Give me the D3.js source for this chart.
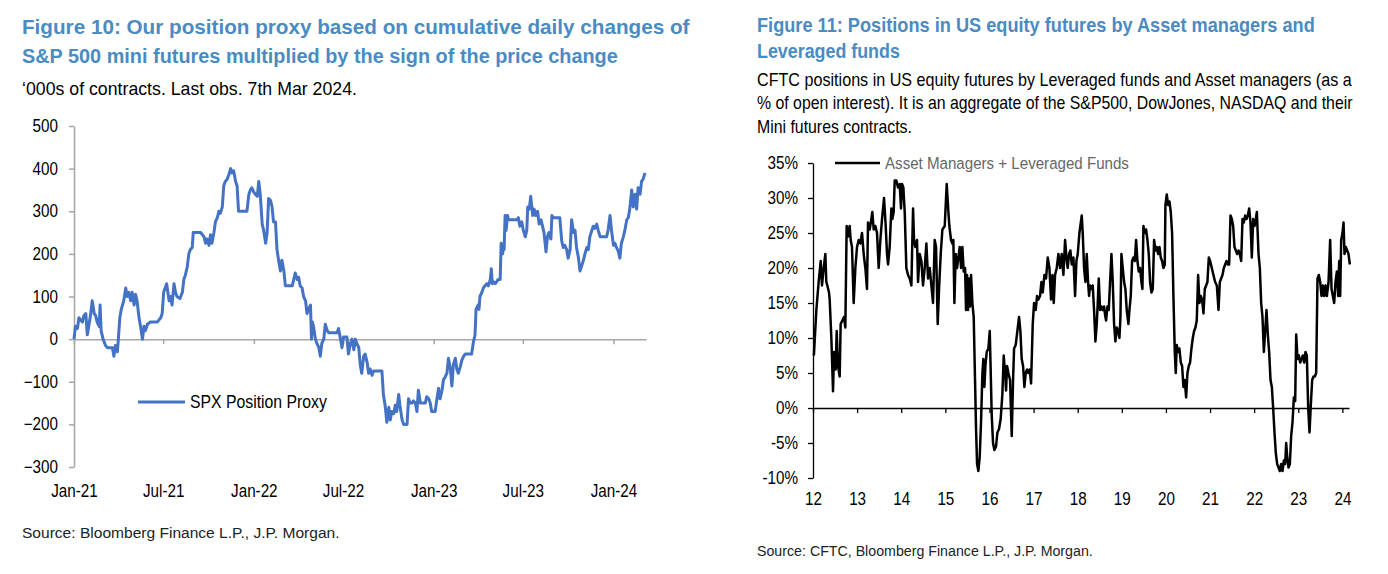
<!DOCTYPE html>
<html>
<head>
<meta charset="utf-8">
<script src="https://cdn.jsdelivr.net/npm/d3@7"></script>
<style>
  html, body { margin: 0; padding: 0; background: #fff; }
  svg { display: block; }
  text { font-family: 'Liberation Sans Narrow', 'Arial Narrow', 'Liberation Sans', Arial, sans-serif; }
</style>
</head>
<body>
<svg id="chart" width="1388" height="574"></svg>
<script>
// ---------- Figure 10 data: SPX position proxy ('000s of contracts) ----------
// [days since 1 Jan 2021, value]
const spxProxy = [
[0,0],[3,30],[7,25],[10,50],[17,40],[20,55],[24,60],[27,10],[30,30],[34,60],[37,90],[41,60],[44,55],[47,40],[51,30],[53,80],[55,20],[59,0],[64,-15],[68,-20],[78,-20],[81,-40],[84,-15],[88,-30],[90,0],[93,50],[96,70],[101,90],[105,120],[108,100],[111,110],[115,90],[118,110],[122,80],[125,105],[128,90],[132,50],[135,30],[139,0],[142,30],[145,20],[149,35],[155,40],[162,40],[169,40],[176,50],[179,60],[182,110],[188,130],[193,90],[196,100],[199,80],[203,130],[206,110],[209,100],[215,95],[220,110],[223,140],[226,150],[230,170],[233,200],[236,210],[240,215],[242,250],[257,250],[264,240],[267,225],[270,235],[274,220],[277,245],[280,225],[284,250],[287,275],[291,285],[294,300],[297,295],[301,310],[304,360],[307,370],[311,375],[314,385],[318,400],[321,390],[324,395],[328,370],[331,360],[334,300],[338,300],[351,300],[355,340],[358,350],[361,355],[365,345],[368,340],[372,335],[375,370],[378,340],[382,270],[385,255],[389,225],[392,250],[395,330],[399,325],[402,310],[405,275],[409,275],[412,210],[416,180],[419,160],[422,185],[426,160],[429,125],[432,125],[443,125],[446,140],[449,155],[453,140],[456,145],[459,125],[463,120],[466,100],[470,90],[473,60],[476,70],[480,80],[482,0],[484,40],[486,30],[490,0],[493,-10],[497,-20],[500,-40],[503,-10],[507,0],[510,35],[514,20],[517,15],[534,15],[537,25],
[544,-20],[547,5],[554,5],[557,-35],[561,-10],[564,0],[568,-25],[571,0],[574,-10],[578,-20],[581,-60],[584,-80],[588,-40],[591,-35],[595,-55],[598,-80],[601,-70],[605,-85],[608,-75],[625,-75],[628,-130],[632,-160],[635,-195],[639,-160],[642,-190],[645,-170],[649,-175],[652,-155],[655,-170],[659,-130],[662,-160],[666,-190],[669,-200],[676,-200],[679,-140],[682,-150],[686,-150],[689,-145],[693,-150],[696,-170],[699,-120],[703,-150],[713,-150],[716,-135],[720,-140],[723,-150],[726,-170],[733,-170],[736,-145],[740,-115],[743,-140],[747,-120],[750,-95],[753,-90],[757,-80],[760,-45],[764,-70],[767,-110],[770,-60],[774,-45],[777,-70],[780,-80],[784,-65],[787,-50],[791,-40],[794,-35],[807,-35],[811,-5],[814,10],[816,70],[820,80],[822,70],[824,100],[828,110],[831,120],[834,125],[838,130],[841,125],[845,140],[847,165],[849,130],[851,135],[855,130],[858,135],[861,140],[865,140],[867,225],[870,200],[872,220],[873,210],[875,290],[877,255],[880,290],[882,280],[885,280],[899,280],[902,285],[905,265],[909,275],[912,255],[916,240],[919,255],[921,310],[924,305],[927,335],[931,290],[934,305],[937,290],[941,300],[944,270],[948,280],[951,265],[954,250],[958,205],[961,240],[964,250],[968,235],[970,290],[973,285],[986,285],[990,230],[993,215],[996,220],[1000,210],[1003,190],[1007,210],[1010,280],[1014,250],[1017,255],[1020,215],[1024,190],[1027,160],[1030,170],[1034,185],[1037,200],[1041,215],[1044,210],[1047,240],[1051,255],[1054,265],[1057,260],[1061,270],[1064,255],[1068,240],[1081,240],[1084,255],[1088,290],[1091,255],[1095,220],[1098,225],[1101,215],[1105,205],[1108,190],[1111,225],[1115,240],[1118,255],[1122,280],[1125,285],[1128,305],[1132,350],[1135,310],[1139,340],[1142,305],[1145,355],[1149,340],[1152,370],[1155,375],[1159,390]
];
const leftYTicks = [-300,-200,-100,0,100,200,300,400,500];
const leftXTicks = ["2021-01-01","2021-07-01","2022-01-01","2022-07-01","2023-01-01","2023-07-01","2024-01-01"];
const leftStart = "2021-01-01", leftEnd = "2024-03-07";

// ---------- Figure 11 data: Asset Managers + Leveraged Funds (% of OI) ----------
// [decimal year, %]
const amLev = [
[2012.02,7.5],[2012.076,14],[2012.128,18],[2012.174,21],[2012.204,17.5],[2012.242,20],[2012.28,22],[2012.302,18],[2012.325,17.5],[2012.363,16.5],[2012.378,15.5],[2012.416,10],[2012.454,2.4],[2012.476,8],[2012.514,5.5],[2012.537,11],[2012.567,6],[2012.605,4.5],[2012.627,12],[2012.665,12.5],[2012.703,13],[2012.733,11.5],[2012.763,26],[2012.794,24.5],[2012.831,26],[2012.854,24],[2012.884,23],[2012.922,15],[2012.96,20],[2012.998,23],[2013.036,24],[2013.073,23.5],[2013.111,25],[2013.149,22],[2013.187,20],[2013.224,17],[2013.247,26.5],[2013.285,25.5],[2013.323,27],[2013.345,28],[2013.376,25.5],[2013.413,26],[2013.451,25],[2013.489,20],[2013.527,24],[2013.565,27],[2013.61,30],[2013.648,26],[2013.678,22],[2013.701,20.5],[2013.738,23],[2013.776,28.5],[2013.799,27],[2013.829,28],[2013.852,32.5],[2013.89,32.5],[2013.927,31.5],[2013.965,32],[2013.995,28.5],[2014.018,32],[2014.048,31.5],[2014.079,28],[2014.116,20],[2014.154,19],[2014.192,18.5],[2014.23,17.5],[2014.268,28.5],[2014.29,24],[2014.32,23],[2014.358,24],[2014.381,18],[2014.419,22],[2014.457,21],[2014.494,17.5],[2014.532,20],[2014.57,23.5],[2014.608,18.5],[2014.646,20],[2014.683,17.5],[2014.721,15],[2014.759,24],[2014.789,23],[2014.827,12],[2014.857,17],[2014.895,22],[2014.933,25.5],[2014.986,26],
[2015.031,32],[2015.069,28],[2015.091,26],[2015.129,24],[2015.159,23.5],[2015.182,24],[2015.205,15],[2015.235,22],[2015.265,20],[2015.295,21.5],[2015.326,23],[2015.356,20],[2015.386,23],[2015.416,19.5],[2015.447,20],[2015.469,14],[2015.492,19],[2015.515,14],[2015.537,18.5],[2015.56,14.5],[2015.583,19],[2015.613,15],[2015.643,13],[2015.673,4],[2015.696,-3],[2015.719,-8],[2015.749,-9],[2015.779,-7],[2015.809,-2],[2015.84,5],[2015.862,7],[2015.885,3],[2015.908,6],[2015.938,8],[2015.976,8.5],[2016.006,11],[2016.029,5],[2016.051,-1],[2016.081,-5],[2016.112,-6],[2016.149,-5.5],[2016.18,-3.5],[2016.217,-3],[2016.255,-1.5],[2016.293,2],[2016.323,7.5],[2016.354,5],[2016.376,2.5],[2016.399,6],[2016.429,5],[2016.467,4],[2016.505,-4],[2016.535,4],[2016.558,8.5],[2016.595,9],[2016.633,11],[2016.671,13],[2016.701,11],[2016.731,7],[2016.762,6],[2016.792,3],[2016.822,5],[2016.852,5.5],[2016.883,5],[2016.913,5.5],[2016.943,3.5],[2016.981,12],[2017.011,15],[2017.049,14],[2017.079,16],[2017.109,15.5],[2017.147,16],[2017.177,18],[2017.208,16.5],[2017.245,19],[2017.283,18.5],[2017.321,21.5],[2017.359,20],[2017.396,15.5],[2017.427,19],[2017.457,15],[2017.487,19],[2017.525,20],[2017.563,22],[2017.601,20],[2017.638,22],[2017.676,19],[2017.714,24],[2017.752,21],[2017.774,20],[2017.805,22],[2017.835,22.5],[2017.865,20.5],[2017.903,21.5],[2017.941,16],[2017.971,21],[2018.001,22],[2018.039,25],[2018.092,27.5],
[2018.114,25],[2018.145,20],[2018.175,18],[2018.205,22],[2018.235,18],[2018.258,16],[2018.281,17.5],[2018.311,17],[2018.341,17.5],[2018.371,14],[2018.402,9.5],[2018.432,12],[2018.455,15],[2018.477,18.5],[2018.508,14],[2018.538,14.5],[2018.568,14],[2018.598,14.5],[2018.628,13],[2018.644,12.5],[2018.674,14.5],[2018.704,14],[2018.734,18],[2018.765,22],[2018.795,18],[2018.825,12],[2018.855,9.5],[2018.885,11.5],[2018.916,11],[2018.946,10],[2018.969,13],[2018.991,22],[2019.021,20],[2019.052,18],[2019.082,17],[2019.112,14],[2019.15,12],[2019.173,14],[2019.203,16],[2019.233,21],[2019.263,21.5],[2019.294,21],[2019.324,24],[2019.354,21],[2019.384,19.5],[2019.415,20],[2019.445,18],[2019.467,17],[2019.49,26],[2019.52,25],[2019.551,25.5],[2019.581,24],[2019.611,22],[2019.641,18],[2019.672,16.5],[2019.702,17],[2019.732,24],[2019.762,22.5],[2019.792,23],[2019.823,22],[2019.853,23],[2019.883,21.5],[2019.913,21],[2019.944,20],[2019.974,20.5],[2019.989,29],[2020.019,30.5],[2020.049,29],[2020.08,29.5],[2020.11,28],[2020.14,25],[2020.17,16],[2020.201,8],[2020.223,5],[2020.246,9],[2020.276,8],[2020.306,8.5],[2020.337,6.5],[2020.367,6],[2020.397,3],[2020.427,4],[2020.458,1.5],[2020.488,5],[2020.518,6],[2020.548,6.5],[2020.578,8.5],[2020.609,10],[2020.639,11],[2020.669,11.5],[2020.699,12.5],[2020.73,19],[2020.76,15],[2020.79,16],[2020.82,15.5],[2020.851,13.5],[2020.881,17],[2020.911,17.5],[2020.941,18],[2020.972,21.5],[2021.002,21],[2021.04,20],[2021.077,19],
[2021.116,18],[2021.154,17.5],[2021.192,14],[2021.222,18],[2021.252,18.5],[2021.282,19],[2021.313,20],[2021.343,20.5],[2021.373,21],[2021.403,20.5],[2021.433,20.5],[2021.464,27.5],[2021.494,27],[2021.524,26],[2021.554,23],[2021.585,22.5],[2021.615,22],[2021.645,22.5],[2021.675,22],[2021.706,21],[2021.736,27],[2021.766,26.5],[2021.796,27.5],[2021.827,27],[2021.857,27.5],[2021.887,28.5],[2021.917,26.5],[2021.947,21.5],[2021.978,27],[2022.008,26],[2022.038,27],[2022.061,28],[2022.099,22],[2022.129,20],[2022.159,15],[2022.189,13],[2022.22,8],[2022.25,11],[2022.28,14],[2022.31,10.5],[2022.34,8],[2022.371,4],[2022.401,3],[2022.431,0],[2022.461,-3.5],[2022.492,-6.5],[2022.522,-8],[2022.552,-8.5],[2022.582,-9],[2022.613,-8],[2022.643,-9],[2022.673,-7.5],[2022.703,-8],[2022.726,-5],[2022.749,-7],[2022.779,-8.5],[2022.809,-8],[2022.839,-4],[2022.87,-2],[2022.9,1.5],[2022.93,1],[2022.953,10.5],[2022.983,7],[2023.013,7.5],[2023.043,6.5],[2023.074,7],[2023.104,7.5],[2023.134,6.5],[2023.164,8],[2023.194,7.5],[2023.225,0],[2023.255,-3.5],[2023.285,0.5],[2023.315,4],[2023.346,4.5],[2023.376,4.5],[2023.406,5],[2023.436,18.5],[2023.466,19],[2023.497,18],[2023.527,16],[2023.557,17.5],[2023.587,16],[2023.618,17.5],[2023.648,16],[2023.686,18],[2023.723,24],[2023.754,17],[2023.784,16],[2023.814,15],[2023.844,18],[2023.875,19.5],[2023.905,16],[2023.928,21],[2023.95,16],[2023.973,24],[2024.003,25],[2024.026,26.5],[2024.048,22],[2024.079,23],[2024.109,22.5],[2024.139,22],[2024.169,20.5]
];
const rightYTicks = [-10,-5,0,5,10,15,20,25,30,35];
const rightXTicks = [2012,2013,2014,2015,2016,2017,2018,2019,2020,2021,2022,2023,2024];
const rightDomain = [2012, 2024.15];

// ---------- Texts ----------
const leftTitle = ["Figure 10: Our position proxy based on cumulative daily changes of",
                   "S&P 500 mini futures multiplied by the sign of the price change"];
const leftSub = "\u2018000s of contracts. Last obs. 7th Mar 2024.";
const leftSource = "Source: Bloomberg Finance L.P., J.P. Morgan.";
const leftLegend = "SPX Position Proxy";
const rightTitle = ["Figure 11: Positions in US equity futures by Asset managers and", "Leveraged funds"];
const rightDesc = ["CFTC positions in US equity futures by Leveraged funds and Asset managers (as a",
                   "% of open interest). It is an aggregate of the S&P500, DowJones, NASDAQ and their",
                   "Mini futures contracts."];
const rightLegend = "Asset Managers + Leveraged Funds";
const rightSource = "Source: CFTC, Bloomberg Finance L.P., J.P. Morgan.";

// ---------- Helpers ----------
const svg = d3.select("#chart");
svg.append("rect").attr("width",1388).attr("height",574).attr("fill","#fff");
const titleColor = "#4a8bc2";
const tickCondense = 0.87;

// horizontally condense a text about its anchor x
function condense(sel, s) {
  sel.each(function() {
    const t = d3.select(this);
    const x = +t.attr("x") || 0;
    t.attr("transform", `translate(${x},0) scale(${s},1) translate(${-x},0)`);
  });
}
// set a text and fit its rendered width to a target by horizontal scaling
function addText(str, x, y, size, weight, color, targetW) {
  const t = svg.append("text").attr("x",x).attr("y",y).attr("font-size",size)
    .attr("font-weight",weight).attr("fill",color).text(str);
  if (targetW) {
    const w = t.node().getComputedTextLength();
    condense(t, targetW / w);
  }
  return t;
}

// Left texts
addText(leftTitle[0], 22, 34, 21, "bold", titleColor, 668);
addText(leftTitle[1], 22, 63, 21, "bold", titleColor, 596);
addText(leftSub, 22, 95, 18, "normal", "#000", 335);
addText(leftSource, 22, 538, 15.5, "normal", "#222", 318);
// Right texts
addText(rightTitle[0], 757, 32, 19.5, "bold", titleColor, 558);
addText(rightTitle[1], 757, 58, 19.5, "bold", titleColor, 143);
addText(rightDesc[0], 757, 86, 17.5, "normal", "#000", 595);
addText(rightDesc[1], 757, 109.5, 17.5, "normal", "#000", 596);
addText(rightDesc[2], 757, 133, 17.5, "normal", "#000", 155);
addText(rightSource, 757, 556, 15.5, "normal", "#222", 336);

// ---- Left chart ----
const parse = d3.utcParse("%Y-%m-%d");
const t0 = parse(leftStart);
const xL = d3.scaleUtc().domain([t0, parse(leftEnd)]).range([74, 646]);
const yL = d3.scaleLinear().domain([-300, 500]).range([467, 126]);
const gray = "#a6a6a6";

const gyL = svg.append("g").attr("transform","translate(74,0)")
  .call(d3.axisLeft(yL).tickValues(leftYTicks).tickSize(5).tickPadding(11).tickSizeOuter(0));
gyL.selectAll("path,line").attr("stroke", gray).attr("stroke-width",1.5);
gyL.selectAll("text").attr("font-size",17.5).attr("fill","#000").style("font-family",null);
condense(gyL.selectAll("text"), tickCondense);

const gzL = svg.append("g").attr("transform",`translate(0,${yL(0)})`)
  .call(d3.axisBottom(xL).tickValues(leftXTicks.map(parse)).tickSize(5).tickFormat("").tickSizeOuter(0));
gzL.selectAll("path,line").attr("stroke", gray).attr("stroke-width",1.5);

const gxL = svg.append("g").attr("transform","translate(0,467)")
  .call(d3.axisBottom(xL).tickValues(leftXTicks.map(parse)).tickSize(0).tickPadding(18)
    .tickFormat(d3.utcFormat("%b-%y")));
gxL.select(".domain").remove();
gxL.selectAll("text").attr("font-size",17.5).attr("fill","#000");
condense(gxL.selectAll("text"), tickCondense);

const lineL = d3.line()
  .x(d => xL(d3.utcDay.offset(t0, d[0])))
  .y(d => yL(d[1]));
svg.append("path").datum(spxProxy).attr("d", lineL).attr("fill","none")
  .attr("stroke","#4472c4").attr("stroke-width",3).attr("stroke-linejoin","round");

// left legend
svg.append("line").attr("x1",138).attr("x2",185).attr("y1",402).attr("y2",402)
  .attr("stroke","#4472c4").attr("stroke-width",3);
addText(leftLegend, 190, 408, 17.5, "normal", "#000", 137);

// ---- Right chart ----
const xR = d3.scaleLinear().domain(rightDomain).range([813, 1349]);
const yR = d3.scaleLinear().domain([-10, 35]).range([478, 163]);

const gyR = svg.append("g").attr("transform","translate(813,0)")
  .call(d3.axisLeft(yR).tickValues(rightYTicks).tickSize(5).tickPadding(10).tickSizeOuter(0)
    .tickFormat(d => d + "%"));
gyR.selectAll("path,line").attr("stroke","#000").attr("stroke-width",1.3);
gyR.selectAll("text").attr("font-size",17.5).attr("fill","#000");
condense(gyR.selectAll("text"), tickCondense);

const gzR = svg.append("g").attr("transform",`translate(0,${yR(0)})`)
  .call(d3.axisBottom(xR).tickValues(rightXTicks).tickSize(5).tickFormat("").tickSizeOuter(0));
gzR.selectAll("path,line").attr("stroke","#000").attr("stroke-width",1.3);

const gxR = svg.append("g").attr("transform","translate(0,478)")
  .call(d3.axisBottom(xR).tickValues(rightXTicks).tickSize(0).tickPadding(15)
    .tickFormat(d => String(d).slice(2)));
gxR.select(".domain").remove();
gxR.selectAll("text").attr("font-size",17.5).attr("fill","#000");
condense(gxR.selectAll("text"), tickCondense);

const lineR = d3.line().x(d => xR(d[0])).y(d => yR(d[1]));
svg.append("path").datum(amLev).attr("d", lineR).attr("fill","none")
  .attr("stroke","#000").attr("stroke-width",2.5).attr("stroke-linejoin","round");

// right legend
svg.append("line").attr("x1",835).attr("x2",880).attr("y1",163).attr("y2",163)
  .attr("stroke","#000").attr("stroke-width",2.5);
addText(rightLegend, 885, 169, 17, "normal", "#666", 244);
</script>
</body>
</html>
